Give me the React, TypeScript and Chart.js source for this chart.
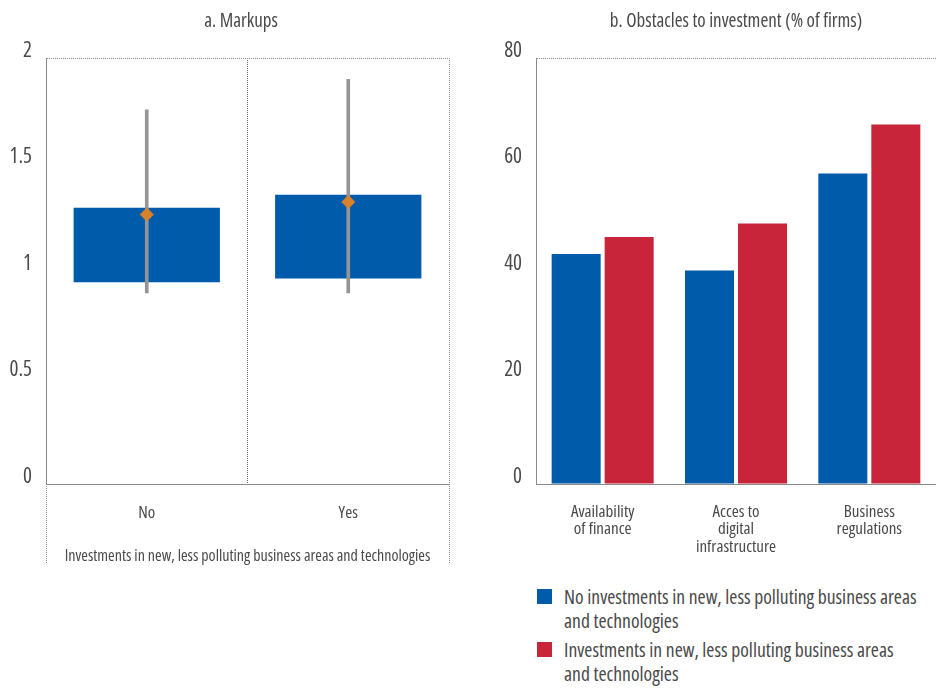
import React, { useEffect, useRef } from "react";
import { Chart, registerables } from "chart.js";

Chart.register(...registerables);

const FAMILY = "'Open Sans', 'Noto Sans', sans-serif";
const TEXT = "#4a4a4a";
const DOT = "#8a8a8a";
const BLUE = "#005BAA";
const RED = "#C8243A";

const font = (size: number, lineHeight = 1.2) => ({
  family: FAMILY,
  size,
  weight: "condensed",
  lineHeight,
});

// Panel a: markups
const markupCategories = ["No", "Yes"];
const boxLow = [0.947, 0.965];
const boxHigh = [1.297, 1.358];
const whiskerLow = [0.897, 0.897];
const whiskerHigh = [1.757, 1.9];
const markupMean = [1.265, 1.324];
const markupTicks = [0, 0.5, 1, 1.5, 2];
const markupAxisTitle = "Investments in new, less polluting business areas and technologies";

// Panel b: obstacles to investment
const obstacleCategories = [
  ["Availability", "of finance"],
  ["Acces to", "digital", "infrastructure"],
  ["Business", "regulations"],
];
const noInvestValues = [43.2, 40.1, 58.3];
const investValues = [46.4, 48.9, 67.5];
const obstacleTicks = [0, 20, 40, 60, 80];
const seriesNames = [
  "No investments in new, less polluting business areas and technologies",
  "Investments in new, less polluting business areas and technologies",
];
const seriesColors = [BLUE, RED];

const extendBorders = {
  id: "extendBorders",
  afterDraw(chart: any) {
    const { ctx, chartArea } = chart;
    ctx.save();
    ctx.strokeStyle = DOT;
    ctx.lineWidth = 1;
    ctx.setLineDash([1, 1]);
    [chartArea.left, chartArea.right].forEach((x: number) => {
      const px = Math.round(x) + 0.5;
      ctx.beginPath();
      ctx.moveTo(px, chartArea.bottom);
      ctx.lineTo(px, chartArea.bottom + 80);
      ctx.stroke();
    });
    ctx.restore();
  },
};

function MarkupsChart() {
  const ref = useRef<HTMLCanvasElement>(null);
  useEffect(() => {
    const chart = new Chart(ref.current!, {
      type: "bar",
      data: {
        labels: markupCategories,
        datasets: [
          {
            type: "line",
            label: "Mean",
            data: markupMean,
            showLine: false,
            pointStyle: "rectRot",
            pointRadius: 6.5,
            pointHoverRadius: 6.5,
            backgroundColor: "#D9822B",
            borderColor: "#D9822B",
            order: 0,
          } as any,
          {
            type: "bar",
            label: "Range",
            data: whiskerLow.map((v, i) => [v, whiskerHigh[i]]),
            backgroundColor: "#959595",
            barThickness: 3,
            grouped: false,
            order: 1,
          } as any,
          {
            type: "bar",
            label: "Box",
            data: boxLow.map((v, i) => [v, boxHigh[i]]),
            backgroundColor: BLUE,
            categoryPercentage: 1,
            barPercentage: 0.726,
            grouped: false,
            order: 2,
          } as any,
        ],
      },
      options: {
        animation: false,
        responsive: false,
        devicePixelRatio: 1,
        layout: { padding: 0 },
        plugins: {
          legend: { display: false },
          tooltip: { enabled: false },
          title: {
            display: true,
            text: "a. Markups",
            color: TEXT,
            font: font(19),
            padding: { top: 10, bottom: 25.2 },
          },
        },
        scales: {
          x: {
            type: "category",
            offset: true,
            grid: {
              display: true,
              offset: true,
              drawTicks: false,
              color: (c: any) => (c.index === 1 ? "#666" : DOT),
            },
            border: { display: true, color: DOT, dash: [1, 1] },
            ticks: { padding: 19, color: TEXT, font: font(17) },
            title: {
              display: true,
              text: markupAxisTitle,
              color: TEXT,
              font: font(16),
              padding: { top: 0, bottom: 14 },
            },
            afterFit: (s: any) => {
              s.height = 96;
            },
          },
          y: {
            min: markupTicks[0],
            max: markupTicks[markupTicks.length - 1],
            afterBuildTicks: (s: any) => {
              s.ticks = markupTicks.map((v) => ({ value: v }));
            },
            ticks: {
              padding: 14,
              labelOffset: -7,
              color: TEXT,
              font: font(21),
              callback: (v: any) => String(v),
            },
            grid: {
              drawTicks: false,
              color: (c: any) =>
                c.tick && (c.tick.value === markupTicks[0] || c.tick.value === markupTicks[markupTicks.length - 1])
                  ? DOT
                  : "transparent",
            },
            border: { display: true, color: DOT, dash: [1, 1] },
            afterFit: (s: any) => {
              s.width = 46;
            },
          },
          ySpacer: {
            type: "linear",
            position: "right",
            display: true,
            grid: { display: false, drawTicks: false },
            border: { display: false },
            ticks: { display: false },
            afterFit: (s: any) => {
              s.width = 33;
            },
          },
        },
      } as any,
      plugins: [extendBorders],
    });
    return () => chart.destroy();
  }, []);
  return (
    <canvas
      ref={ref}
      width={482}
      height={580}
      style={{ position: "absolute", left: 0, top: 0, width: 482, height: 580 }}
    />
  );
}

function ObstaclesChart() {
  const ref = useRef<HTMLCanvasElement>(null);
  useEffect(() => {
    const chart = new Chart(ref.current!, {
      type: "bar",
      data: {
        labels: obstacleCategories,
        datasets: [
          {
            label: seriesNames[0],
            data: noInvestValues,
            backgroundColor: seriesColors[0],
            categoryPercentage: 0.795,
            barPercentage: 0.925,
          },
          {
            label: seriesNames[1],
            data: investValues,
            backgroundColor: seriesColors[1],
            categoryPercentage: 0.795,
            barPercentage: 0.925,
          },
        ],
      },
      options: {
        animation: false,
        responsive: false,
        devicePixelRatio: 1,
        layout: { padding: 0 },
        plugins: {
          legend: { display: false },
          tooltip: { enabled: false },
          title: {
            display: true,
            fullSize: false,
            text: "b. Obstacles to investment (% of firms)",
            color: TEXT,
            font: font(19),
            padding: { top: 10, bottom: 25.2 },
          },
        },
        scales: {
          x: {
            grid: { display: false, drawTicks: false },
            border: { display: true, color: DOT, dash: [1, 1] },
            ticks: {
              padding: 19,
              color: TEXT,
              font: font(17, 1.03),
              maxRotation: 0,
              autoSkip: false,
            },
            afterFit: (s: any) => {
              s.height = 96;
            },
          },
          y: {
            min: obstacleTicks[0],
            max: obstacleTicks[obstacleTicks.length - 1],
            afterBuildTicks: (s: any) => {
              s.ticks = obstacleTicks.map((v) => ({ value: v }));
            },
            ticks: {
              padding: 14,
              labelOffset: -7,
              color: TEXT,
              font: font(21),
            },
            grid: {
              drawTicks: false,
              color: (c: any) =>
                c.tick &&
                (c.tick.value === obstacleTicks[0] || c.tick.value === obstacleTicks[obstacleTicks.length - 1])
                  ? DOT
                  : "transparent",
            },
            border: { display: true, color: DOT, dash: [1, 1] },
            afterFit: (s: any) => {
              s.width = 54;
            },
          },
        },
      } as any,
    });
    return () => chart.destroy();
  }, []);
  return (
    <canvas
      ref={ref}
      width={454}
      height={580}
      style={{ position: "absolute", left: 482, top: 0, width: 454, height: 580 }}
    />
  );
}

function Legend() {
  return (
    <div
      style={{
        position: "absolute",
        left: 537,
        top: 585,
        width: 399,
        fontFamily: FAMILY,
        fontStretch: "75%",
        fontSize: 19.6,
        lineHeight: "24px",
        color: TEXT,
      }}
    >
      {seriesNames.map((name, i) => (
        <div key={name} style={{ display: "flex", alignItems: "flex-start", marginBottom: 5 }}>
          <span
            style={{
              display: "inline-block",
              width: 15,
              height: 15,
              marginTop: 4,
              marginRight: 12,
              background: seriesColors[i],
              flex: "0 0 auto",
            }}
          />
          <span style={{ width: 355 }}>{name}</span>
        </div>
      ))}
    </div>
  );
}

export default function App() {
  return (
    <div style={{ position: "absolute", left: 0, top: 0, width: 936, height: 688, background: "#fff" }}>
      <MarkupsChart />
      <ObstaclesChart />
      <Legend />
    </div>
  );
}
